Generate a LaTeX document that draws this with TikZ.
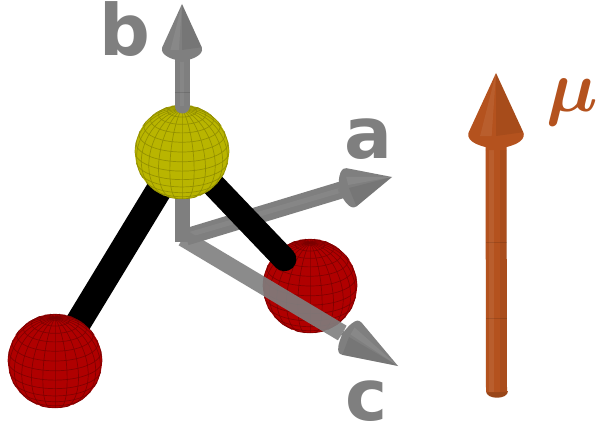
\documentclass[tikz,border=0pt]{standalone}
\usepackage{amsmath,amssymb}
\usepackage{fontspec}
\setmainfont{DejaVu Sans}
\usetikzlibrary{calc}
\definecolor{axisgray}{HTML}{7F7F7F}
\definecolor{muorange}{HTML}{B4521E}
\definecolor{sulfur}{HTML}{B9B500}
\definecolor{sulfurline}{HTML}{8E8B00}
\definecolor{oxygen}{HTML}{B00000}
\definecolor{oxygenline}{HTML}{7A0000}
\tikzset{
  x=1pt,y=-1pt,
  atom/.style={circle,minimum size=94pt,inner sep=0pt,outer sep=0pt},
  bondline/.style={black,line cap=round},
  axislabel/.style={text=axisgray,font=\fontsize{71}{71}\selectfont\bfseries,inner sep=0pt},
}
\def\Tilt{24}
% mesh of a sphere: #1 node name, #2 fill, #3 line colour
\newcommand{\meshsphere}[3]{%
  \fill[#2] (#1.center) circle[radius=47pt];
  \begin{scope}[shift={(#1.center)},draw=#3,line width=0.7pt,opacity=.85]
    \foreach \lon in {0,15,...,345}{%
      \pgfmathsetmacro{\pmin}{atan(-cos(\lon)/tan(\Tilt))}%
      \draw plot[smooth,samples=18,domain=\pmin:90,variable=\p]
        ({47*cos(\p)*sin(\lon)},{-47*(sin(\p)*cos(\Tilt)-cos(\p)*cos(\lon)*sin(\Tilt))});
    }
    \foreach \lat in {-72,-60,...,84}{%
      \pgfmathsetmacro{\cl}{max(-1,min(1,-tan(\lat)*tan(\Tilt)))}%
      \pgfmathsetmacro{\lmax}{atan2(sqrt(1-\cl*\cl),\cl)}%
      \draw plot[smooth,samples=30,domain=-\lmax:\lmax,variable=\t]
        ({47*cos(\lat)*sin(\t)},{-47*(sin(\lat)*cos(\Tilt)-cos(\lat)*cos(\t)*sin(\Tilt))});
    }
  \end{scope}
}
% arrow head: #1 base, #2 tip, #3 half width, #4 shaft half width, #5 neck length, #6 colour
\newcommand{\conehead}[6]{%
  \coordinate (hL) at ($(#1)!#3pt!90:(#2)$);
  \coordinate (hR) at ($(#1)!#3pt!-90:(#2)$);
  \coordinate (hN) at ($(#1)!-#5pt!(#2)$);
  \coordinate (nL) at ($(hN)!#4pt!-90:(#1)$);
  \coordinate (nR) at ($(hN)!#4pt!90:(#1)$);
  \fill[#6] (#2) -- ($(#2)!.94!(hL)$) .. controls (hL) and ($(hL)+0.8*(hN)-0.8*(#1)$) .. (nL)
     -- (nR) .. controls ($(hR)+0.8*(hN)-0.8*(#1)$) and (hR) .. ($(#2)!.94!(hR)$) -- cycle;
  \fill[black,opacity=.07] (#2) -- ($(#2)!.94!(hR)$) -- (#1) -- cycle;
  \fill[white,opacity=.07] (#2) -- ($(#1)!.55!(hL)$) -- ($(#1)!.15!(hL)$) -- cycle;
}
\begin{document}
\begin{tikzpicture}
\useasboundingbox (0,0) rectangle (596,425);
\fill[white] (0,0) rectangle (596,425);

% atoms
\node[atom] (S) at (182,152) {};
\node[atom] (Oa) at (55,361) {};
\node[atom] (Ob) at (310,286) {};

% axis points
\coordinate (origin) at (182,238);
\coordinate (bbase) at (182,50);
\coordinate (btip) at (182,4);
\coordinate (bjoin) at (182,106);
\coordinate (abase) at (349,188);
\coordinate (atip) at (392,177);
\coordinate (cbase) at (349,337);
\coordinate (ctip) at (398,366);

% bond to lower-left oxygen and lower-left oxygen
\draw[bondline,line width=26pt] (S.center) -- (Oa.center);
\meshsphere{Oa}{oxygen}{oxygenline}

% axis b (lower part), axis a
\draw[axisgray,line width=15pt] (182,242) -- (S.center);
\draw[axisgray,line width=17pt] ($(origin)+(4,-1)$) -- ($(abase)!-8pt!(atip)$);
\draw[white,opacity=.06,line width=5pt] ($(origin)+(6,-3)$) -- ($(abase)!-8pt!(atip)$);
\conehead{abase}{atip}{21}{8.5}{11}{axisgray}

% right oxygen, bonds on top
\meshsphere{Ob}{oxygen}{oxygenline}
\draw[bondline,line width=24pt] (S.center) -- ($(S.center)!0.8!(Ob.center)$);

% sulfur
\meshsphere{S}{sulfur}{sulfurline}

% axis b (upper part)
\draw[axisgray,line width=15pt,line cap=round] (bjoin) -- (bbase);
\draw[white,opacity=.06,line width=4pt] (bjoin) -- (bbase);
\draw[black,opacity=.12,line width=.6pt] (174.5,92) -- (189.5,92);
\conehead{bbase}{btip}{21}{7.5}{12}{axisgray}

% axis c
\begin{scope}[opacity=.9]
\draw[axisgray,line width=17pt] ($(origin)+(1,0)$) -- ($(cbase)!-8pt!(ctip)$);
\end{scope}
\conehead{cbase}{ctip}{20}{8.5}{8}{axisgray}

% moment arrow
\coordinate (mubottom) at (496.5,392);
\coordinate (mubase) at (496,136);
\coordinate (mutip) at (496,73);
\fill[muorange!85!black] (485.5,391) .. controls (485.5,399.5) and (507.5,399.5) .. (507.5,391) -- cycle;
\draw[muorange,line width=21pt] (mubottom) -- (mubase);
\fill[white,opacity=.07] (489,150) rectangle (494,392);
\fill[black,opacity=.06] (500,150) rectangle (507,392);
\draw[black,opacity=.12,line width=.6pt] (486,242) -- (507,242);
\draw[black,opacity=.12,line width=.6pt] (486,318) -- (507,318);
\conehead{mubase}{mutip}{29}{10.5}{14}{muorange}

% labels
\node[axislabel,anchor=base] (lb) at (124.5,56) {b};
\node[axislabel,anchor=base] (la) at (368,158) {a};
\node[axislabel,anchor=base] (lc) at (366.5,420) {c};
\node[text=muorange,scale=7.3,inner sep=0pt,anchor=base] (lmu) at (572.5,111) {$\boldsymbol{\mu}$};
\end{tikzpicture}
\end{document}
